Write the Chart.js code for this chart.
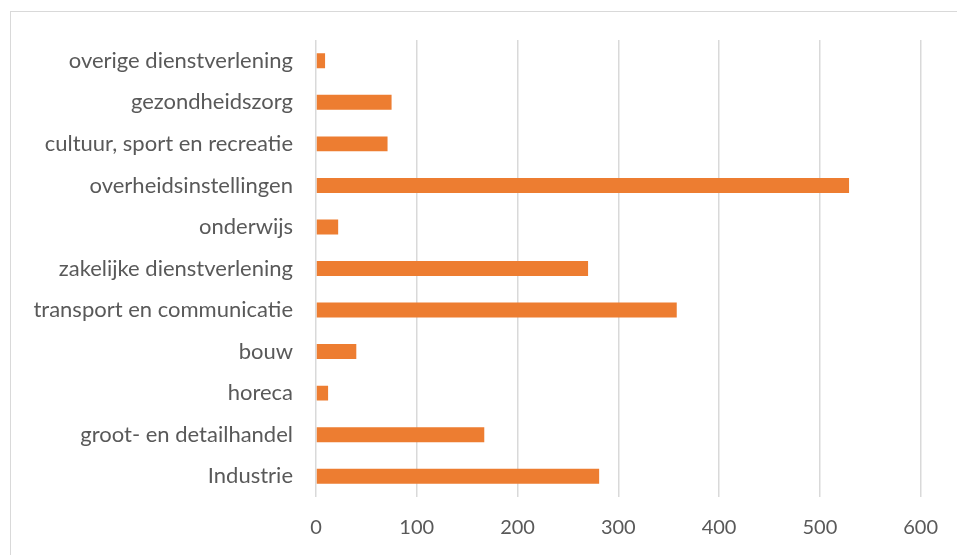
<!DOCTYPE html>
<html>
<head>
<meta charset="utf-8">
<script src="https://cdn.jsdelivr.net/npm/chart.js@4"></script>
<style>
  html, body { margin: 0; padding: 0; background: #fff; }
  #frame {
    position: absolute; left: 10px; top: 11px;
    width: 960px; height: 560px;
    border: 1px solid #d9d9d9;
  }
  #wrap { position: absolute; left: 0; top: 0; width: 957px; height: 555px; }
</style>
</head>
<body>
<div id="frame"></div>
<div id="wrap"><canvas id="chart"></canvas></div>
<script>
// Sectors, bottom to top as drawn
const sectors = [
    'Industrie',
    'groot- en detailhandel',
    'horeca',
    'bouw',
    'transport en communicatie',
    'zakelijke dienstverlening',
    'onderwijs',
    'overheidsinstellingen',
    'cultuur, sport en recreatie',
    'gezondheidszorg',
    'overige dienstverlening'
];
const values = [281, 167, 12, 40, 358, 270, 22, 529, 71, 75, 9];
const axisMin = 0;
const axisMax = 600;
const axisStep = 100;

const textColor = '#595959';
const fontFamily = 'Lato, sans-serif';

const ctx = document.getElementById('chart').getContext('2d');
new Chart(ctx, {
    type: 'bar',
    data: {
        // reversed so the first sector sits at the bottom
        labels: sectors.slice().reverse(),
        datasets: [{
            data: values.slice().reverse(),
            backgroundColor: '#ed7d31',
            borderWidth: 0,
            barPercentage: 0.36,
            categoryPercentage: 1
        }]
    },
    options: {
        indexAxis: 'y',
        responsive: true,
        maintainAspectRatio: false,
        animation: false,
        layout: { padding: { top: 40, right: 32, left: 0, bottom: 0 } },
        plugins: {
            legend: { display: false },
            tooltip: { enabled: false }
        },
        scales: {
            x: {
                min: axisMin,
                max: axisMax,
                ticks: {
                    stepSize: axisStep,
                    color: textColor,
                    padding: 19,
                    font: { family: fontFamily, size: 20 }
                },
                grid: { color: '#d9d9d9', lineWidth: 1.5, drawTicks: false },
                border: { display: false },
                afterFit: scale => { scale.height = 58; }
            },
            y: {
                ticks: {
                    color: textColor,
                    padding: 23,
                    font: { family: fontFamily, size: 22 }
                },
                grid: { display: false, drawTicks: false },
                border: { display: false },
                afterFit: scale => { scale.width = 316; }
            }
        }
    }
});
</script>
</body>
</html>
